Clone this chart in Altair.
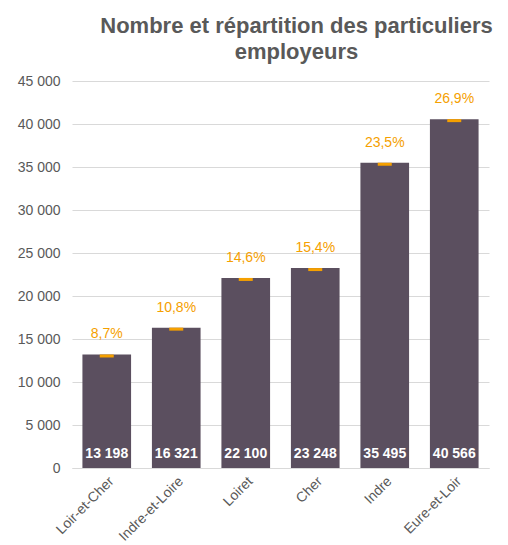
import altair as alt
import pandas as pd

departements = ["Loir-et-Cher", "Indre-et-Loire", "Loiret", "Cher", "Indre", "Eure-et-Loir"]
effectifs = [13198, 16321, 22100, 23248, 35495, 40566]
parts = [8.7, 10.8, 14.6, 15.4, 23.5, 26.9]

df = pd.DataFrame({
    "dep": departements,
    "n": effectifs,
    "pct": parts,
})
df["n_lab"] = df["n"].map(lambda v: f"{v:,}".replace(",", " "))
df["pct_lab"] = df["pct"].map(lambda v: f"{v:.1f}".replace(".", ",") + "%")
df["zero"] = 0

FONT = "Liberation Sans"
GREY = "#595959"
ORANGE = "#F5A000"
BAR = "#5B4F5F"

xenc = alt.X("dep:N", sort=departements, title=None,
             scale=alt.Scale(paddingInner=0.3, paddingOuter=0.15),
             axis=alt.Axis(labelAngle=-45, labelFontSize=14, labelColor=GREY, labelFont=FONT,
                           ticks=False, domainColor="#d9d9d9", labelPadding=6))
yscale = alt.Scale(domain=[0, 45000])

base = alt.Chart(df).encode(x=xenc)

bars = base.mark_bar(color=BAR).encode(
    y=alt.Y("n:Q", scale=yscale, title=None,
            axis=alt.Axis(values=list(range(0, 45001, 5000)), labelExpr="replace(format(datum.value, ','), ',', ' ')",
                          labelFontSize=14, labelColor=GREY, labelFont=FONT, ticks=False, domain=False,
                          gridColor="#d9d9d9", labelPadding=12))
)

marks = base.mark_tick(color=ORANGE, size=14, thickness=3, yOffset=1.5, opacity=1).encode(
    y=alt.Y("n:Q", scale=yscale)
)

pct_text = base.mark_text(color=ORANGE, fontSize=14, font=FONT, dy=-20, baseline="middle").encode(
    y=alt.Y("n:Q", scale=yscale), text="pct_lab:N"
)

n_text = base.mark_text(color="white", fontSize=14, font=FONT, fontWeight="bold", dy=-14, baseline="middle").encode(
    y=alt.Y("zero:Q", scale=yscale), text="n_lab:N"
)

chart = alt.layer(bars, marks, pct_text, n_text).properties(
    width=417, height=387,
    title=alt.TitleParams(["Nombre et répartition des particuliers", "employeurs"], fontSize=22,
                          font=FONT, fontWeight="bold", color=GREY, anchor="middle", offset=10, lineHeight=26,
                          dx=16),
    padding={"left": 9, "top": 7, "right": 0, "bottom": 3},
).configure_view(stroke=None)

chart.save("out.html", embed_options={"renderer": "svg", "actions": False})
